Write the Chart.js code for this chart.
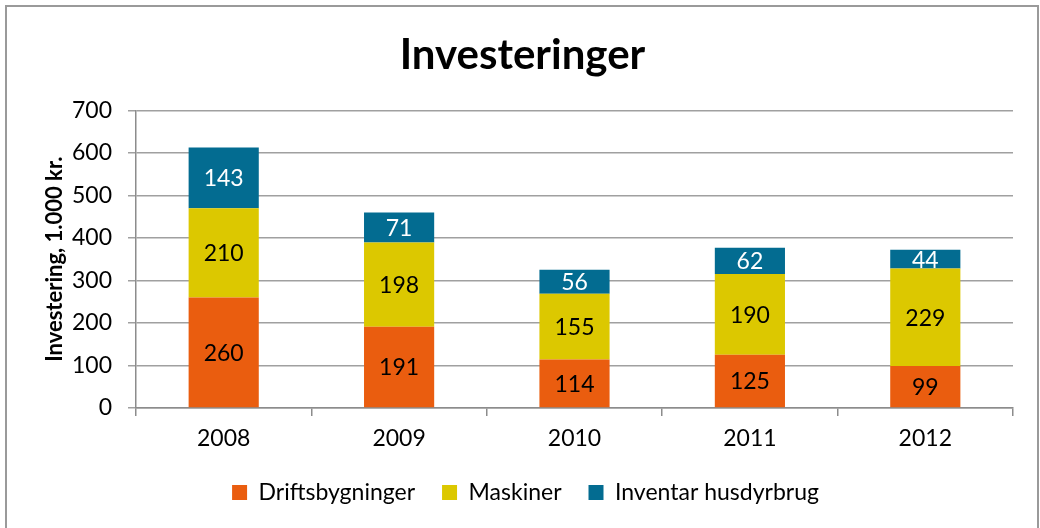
<!DOCTYPE html>
<html>
<head>
<meta charset="utf-8">
<script src="https://cdn.jsdelivr.net/npm/chart.js@4"></script>
<style>
  html, body { margin: 0; padding: 0; background: #fff; }
  #wrap { width: 1040px; height: 528px; }
</style>
</head>
<body>
<div id="wrap"><canvas id="chart" width="1040" height="528"></canvas></div>
<script>
// chart data
const years = ['2008', '2009', '2010', '2011', '2012'];
const driftsbygninger = [260, 191, 114, 125, 99];
const maskiner = [210, 198, 155, 190, 229];
const inventar = [143, 71, 56, 62, 44];
const yTicks = [0, 100, 200, 300, 400, 500, 600, 700];

const FONT = 'Lato, "Open Sans", sans-serif';

// draws the outer frame like the spreadsheet chart border
const framePlugin = {
    id: 'frame',
    beforeDraw(chart) {
        const ctx = chart.ctx;
        ctx.save();
        ctx.fillStyle = '#fff';
        ctx.fillRect(0, 0, chart.width, chart.height);
        ctx.strokeStyle = '#9a9a9a';
        ctx.lineWidth = 2;
        ctx.strokeRect(6, 6, 1032, 540);
        ctx.restore();
    }
};

// nudge title and legend so they sit centred on the whole frame
const nudgePlugin = {
    id: 'nudge',
    afterLayout(chart) {
        if (chart.legend) {
            chart.legend.left += 9;
            chart.legend.right += 9;
            chart.legend.top += 2;
            chart.legend.bottom += 2;
        }
        if (chart.titleBlock) {
            chart.titleBlock.left += 6;
            chart.titleBlock.right += 6;
        }
    }
};

// value labels centred in each segment
const labelPlugin = {
    id: 'segLabels',
    afterDatasetsDraw(chart) {
        const ctx = chart.ctx;
        ctx.save();
        ctx.font = '23px ' + FONT;
        ctx.textAlign = 'center';
        ctx.textBaseline = 'middle';
        chart.data.datasets.forEach((ds, i) => {
            const meta = chart.getDatasetMeta(i);
            meta.data.forEach((bar, j) => {
                const mid = (bar.y + bar.base) / 2;
                ctx.fillStyle = ds.labelColor;
                ctx.fillText(ds.data[j], bar.x, mid + 1);
            });
        });
        ctx.restore();
    }
};

const ctx = document.getElementById('chart').getContext('2d');
new Chart(ctx, {
    type: 'bar',
    data: {
        labels: years,
        datasets: [
            {
                label: 'Driftsbygninger',
                data: driftsbygninger,
                backgroundColor: '#EA5D0F',
                labelColor: '#000'
            },
            {
                label: 'Maskiner',
                data: maskiner,
                backgroundColor: '#DCC800',
                labelColor: '#000'
            },
            {
                label: 'Inventar husdyrbrug',
                data: inventar,
                backgroundColor: '#036C91',
                labelColor: '#fff'
            }
        ]
    },
    options: {
        responsive: false,
        animation: false,
        devicePixelRatio: 1,
        categoryPercentage: 1,
        barPercentage: 0.4,
        layout: {
            padding: { left: 20, right: 27, top: 10, bottom: 16 }
        },
        plugins: {
            title: {
                display: true,
                text: 'Investeringer',
                color: '#000',
                font: { family: FONT, size: 42, weight: 'bold' },
                padding: { top: 20, bottom: 30 }
            },
            legend: {
                position: 'bottom',
                labels: {
                    color: '#000',
                    font: { family: FONT, size: 23 },
                    boxWidth: 15,
                    boxHeight: 15,
                    padding: 27
                }
            },
            tooltip: { enabled: false }
        },
        scales: {
            x: {
                stacked: true,
                grid: {
                    offset: true,
                    drawOnChartArea: false,
                    drawTicks: true,
                    tickLength: 8,
                    color: '#8c8c8c',
                    lineWidth: 1.5
                },
                border: { color: '#8c8c8c', width: 1.5 },
                ticks: {
                    color: '#000',
                    font: { family: FONT, size: 23 },
                    padding: 9
                },
                afterFit(scale) { scale.height = 44; }
            },
            y: {
                stacked: true,
                min: 0,
                max: 700,
                afterBuildTicks(scale) {
                    scale.ticks = yTicks.map(v => ({ value: v }));
                },
                grid: {
                    color: '#a0a0a0',
                    lineWidth: 1.5,
                    tickLength: 8
                },
                border: { color: '#8c8c8c', width: 1.5 },
                ticks: {
                    color: '#000',
                    font: { family: FONT, size: 23 },
                    padding: 16
                },
                title: {
                    display: true,
                    text: 'Investering, 1.000 kr.',
                    color: '#000',
                    font: { family: FONT, size: 22, weight: 'bold' },
                    padding: { top: 22, bottom: 6 }
                },
                afterFit(scale) { scale.width = 116; }
            }
        }
    },
    plugins: [framePlugin, nudgePlugin, labelPlugin]
});
</script>
</body>
</html>
